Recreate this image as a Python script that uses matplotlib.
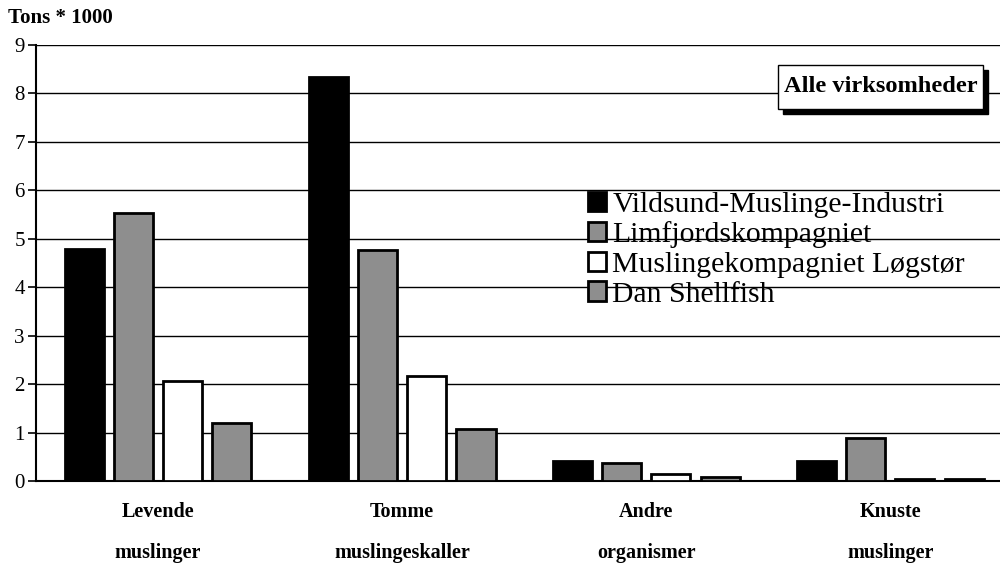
import matplotlib.pyplot as plt
import numpy as np
from matplotlib.patches import Rectangle

plt.rcParams['font.family'] = ['Liberation Serif', 'DejaVu Serif']

kategorier = ['Levende\nmuslinger', 'Tomme\nmuslingeskaller',
              'Andre\norganismer', 'Knuste\nmuslinger']
virksomheder = ['Vildsund-Muslinge-Industri', 'Limfjordskompagniet',
                'Muslingekompagniet Løgstør', 'Dan Shellfish']

# Tons * 1000 pr. kategori
vildsund = [4.78, 8.33, 0.42, 0.42]
limfjord = [5.53, 4.77, 0.37, 0.88]
loegstoer = [2.07, 2.17, 0.15, 0.05]
dan_shellfish = [1.20, 1.08, 0.09, 0.05]

serier = [vildsund, limfjord, loegstoer, dan_shellfish]
farver = ['black', '#8e8e8e', 'white', '#8e8e8e']

fig = plt.figure(figsize=(10, 5.63), dpi=100)
ax = fig.add_axes([0.036, 0.1456, 0.964, 0.7744])

x = np.arange(len(kategorier))
bredde = 0.16
forskyd = [-0.303, -0.101, 0.101, 0.303]
for serie, farve, navn, d in zip(serier, farver, virksomheder, forskyd):
    ax.bar(x + d, serie, bredde, color=farve, edgecolor='black',
           linewidth=2, label=navn, zorder=3)

ax.set_xlim(-0.5, 3.45)
ax.set_ylim(0, 9)
ax.set_yticks(range(10))
ax.yaxis.grid(True, color='black', linewidth=1.0, zorder=0)
for s in ['top', 'right']:
    ax.spines[s].set_visible(False)
ax.spines['left'].set_linewidth(1.5)
ax.spines['bottom'].set_linewidth(1.5)
ax.tick_params(axis='y', labelsize=15, length=6, width=1.2, pad=2)
ax.tick_params(axis='x', length=0, pad=15)
ax.set_xticks(x)
ax.set_xticklabels(kategorier, fontsize=14.5, fontweight='bold',
                   linespacing=2.4, va='top')

fig.text(0.008, 0.968, 'Tons * 1000', fontsize=15, fontweight='bold',
         va='center', ha='left')

# boks med skygge
fig.add_artist(Rectangle((0.783, 0.7975), 0.205, 0.0782,
                         transform=fig.transFigure, fc='black', ec='black'))
fig.add_artist(Rectangle((0.778, 0.8064), 0.205, 0.0782,
                         transform=fig.transFigure, fc='white', ec='black',
                         lw=1))
fig.text(0.8805, 0.8455, 'Alle virksomheder', fontsize=17.6,
         fontweight='bold', ha='center', va='center')

leg = ax.legend(loc='upper left', bbox_to_anchor=(0.573, 0.686),
                bbox_transform=fig.transFigure, frameon=False,
                fontsize=21.4, handlelength=0.62, handleheight=0.62,
                handletextpad=0.2, labelspacing=0.12, borderpad=0)

fig.savefig('out.png', dpi=100)
